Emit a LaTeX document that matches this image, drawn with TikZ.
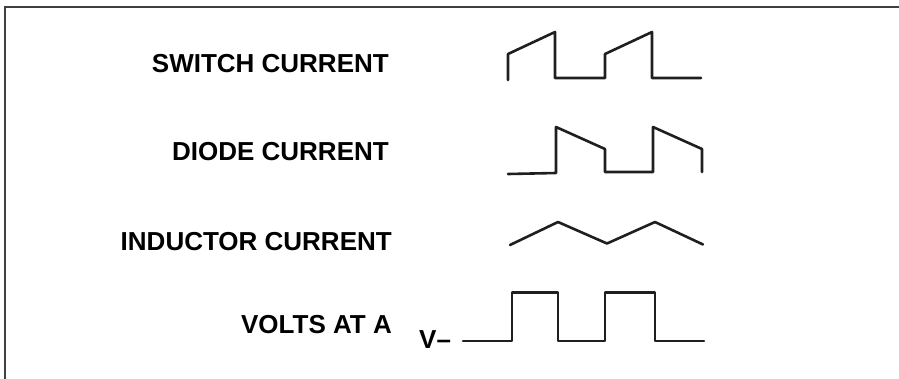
\documentclass[tikz,border=0pt]{standalone}
\usepackage{fontspec}
\setmainfont{Liberation Sans}
\usepackage{tikz}
\usetikzlibrary{positioning}
\tikzset{
  wvlab/.style={font=\bfseries\fontsize{26}{26}\selectfont, inner sep=0pt, anchor=base east},
  wvline/.style={draw=black!88, line width=2.6pt, line join=round, line cap=round},
  wvframe/.style={draw=black!75, line width=2pt},
}

\begin{document}
\begin{tikzpicture}[x=1pt,y=-1pt]
  \useasboundingbox (0,0) rectangle (899,378);
  \draw[wvframe] (5,380) -- (5,7) -- (901,7);
  % labels
  \node[wvlab] (swlab) at (389,72) {SWITCH CURRENT};
  \node[wvlab] (dilab) at (389,160.5) {DIODE CURRENT};
  \node[wvlab] (inlab) at (392,250) {INDUCTOR CURRENT};
  \node[wvlab] (volab) at (392,333) {VOLTS AT A};
  \node[font=\bfseries\fontsize{26}{26}\selectfont, inner sep=0pt, anchor=base west] (vlab) at (419,348) {V–};
  % waveforms
  \draw[wvline] (508,80) -- (508,54) -- (555,32) -- (555,78) -- (605,78)
    -- (605,54) -- (652,32) -- (652,78) -- (701,78);
  \draw[wvline] (508,174) -- (556,173) -- (556,127) -- (605,149) -- (605,172)
    -- (653,172) -- (653,127) -- (702,149) -- (702,172);
  \draw[wvline] (510,245) -- (558,222) -- (607,243.5) -- (655,222) -- (703,244.5);
  \draw[wvline] (463,341) -- (512,341) -- (512,292.5) -- (558,292.5) -- (558,341)
    -- (605,341) -- (605,292.5) -- (655,292.5) -- (655,341) -- (704,341);
\end{tikzpicture}
\end{document}
